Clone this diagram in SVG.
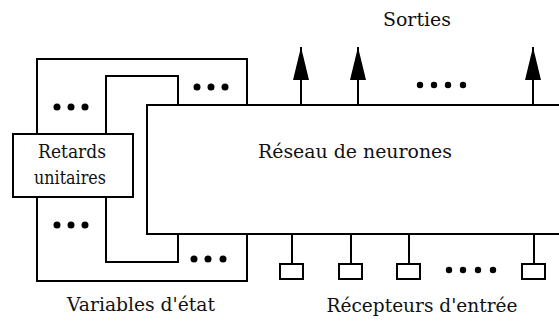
<svg xmlns="http://www.w3.org/2000/svg" width="559" height="322" viewBox="0 0 559 322">
<style>
.ln{fill:none;stroke:#000;stroke-width:2}
.bx{fill:#fff;stroke:#000;stroke-width:2}
.tx{font-family:'DejaVu Serif','Liberation Serif',serif;font-size:19px;fill:#111;text-anchor:middle}
.dot{fill:#000}
</style>
<defs>
<marker id="ah" viewBox="0 0 33 16" refX="33" refY="8" markerWidth="33" markerHeight="16" markerUnits="userSpaceOnUse" orient="auto">
<path d="M0,0 L33,8 L0,16 Z" fill="#000"/>
</marker>
</defs>
<rect width="559" height="322" fill="#fff"/>

<g id="reseau">
<path class="ln" d="M566,105 H147 V234 H566"/>
<text class="tx" x="355" y="158" textLength="194" lengthAdjust="spacingAndGlyphs">Réseau de neurones</text>
</g>

<g id="retards">
<rect class="bx" x="13" y="134" width="120" height="63"/>
<text class="tx" x="72" y="158" textLength="68" lengthAdjust="spacingAndGlyphs">Retards</text>
<text class="tx" x="70" y="184" textLength="72" lengthAdjust="spacingAndGlyphs">unitaires</text>
</g>

<g id="connectors">
<polyline class="ln" points="37,134 37,59 247,59 247,105"/>
<polyline class="ln" points="106,134 106,76 178,76 178,105"/>
<polyline class="ln" points="37,197 37,281 247,281 247,234"/>
<polyline class="ln" points="106,197 106,262 178,262 178,234"/>
<line class="ln" x1="301" y1="105" x2="301" y2="47" marker-end="url(#ah)"/>
<line class="ln" x1="358" y1="105" x2="358" y2="47" marker-end="url(#ah)"/>
<line class="ln" x1="533" y1="105" x2="533" y2="47" marker-end="url(#ah)"/>
<line class="ln" x1="292" y1="234" x2="292" y2="264"/>
<line class="ln" x1="351" y1="234" x2="351" y2="264"/>
<line class="ln" x1="409" y1="234" x2="409" y2="264"/>
<line class="ln" x1="534" y1="234" x2="534" y2="264"/>
</g>

<g id="recepteurs">
<rect class="bx" x="280" y="264" width="23" height="15"/>
<rect class="bx" x="339" y="264" width="23" height="15"/>
<rect class="bx" x="397" y="264" width="23" height="15"/>
<rect class="bx" x="522" y="264" width="23" height="15"/>
</g>

<g id="dots">
<circle class="dot" cx="57" cy="107" r="3.5"/><circle class="dot" cx="71" cy="107" r="3.5"/><circle class="dot" cx="85" cy="107" r="3.5"/>
<circle class="dot" cx="197" cy="87" r="3.5"/><circle class="dot" cx="211" cy="87" r="3.5"/><circle class="dot" cx="225" cy="87" r="3.5"/>
<circle class="dot" cx="57" cy="225" r="3.5"/><circle class="dot" cx="71" cy="225" r="3.5"/><circle class="dot" cx="85" cy="225" r="3.5"/>
<circle class="dot" cx="194" cy="259" r="3.5"/><circle class="dot" cx="208" cy="259" r="3.5"/><circle class="dot" cx="223" cy="259" r="3.5"/>
<circle class="dot" cx="420" cy="85" r="3.2"/><circle class="dot" cx="434" cy="85" r="3.2"/><circle class="dot" cx="448" cy="85" r="3.2"/><circle class="dot" cx="463" cy="85" r="3.2"/>
<circle class="dot" cx="449" cy="270" r="3.2"/><circle class="dot" cx="463" cy="270" r="3.2"/><circle class="dot" cx="478" cy="270" r="3.2"/><circle class="dot" cx="493" cy="270" r="3.2"/>
</g>

<g id="labels">
<text class="tx" x="417" y="26" textLength="68" lengthAdjust="spacingAndGlyphs">Sorties</text>
<text class="tx" x="141" y="311" textLength="148" lengthAdjust="spacingAndGlyphs">Variables d'état</text>
<text class="tx" x="422" y="312" textLength="191" lengthAdjust="spacingAndGlyphs">Récepteurs d'entrée</text>
</g>
</svg>
